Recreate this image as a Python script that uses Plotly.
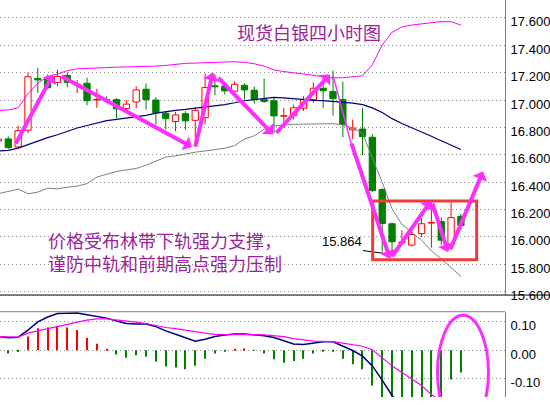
import plotly.graph_objects as go

# ---- data: 4-hour spot silver bars (index -1 is the partly hidden first bar) ----
bar_index = list(range(-1, 47))

open_ = [16.700, 16.716, 16.657, 16.780, 17.158, 17.154, 17.129, 17.180, 17.111, 17.122,
         17.000, 17.004, 17.003, 16.938, 16.986, 17.079, 17.000, 16.904, 16.843, 16.900,
         16.852, 16.871, 17.104, 17.101, 17.065, 17.108, 17.072, 17.003, 16.995, 16.882,
         16.886, 16.940, 17.003, 17.086, 17.063, 17.003, 16.782, 16.788, 16.728, 16.346,
         16.096, 15.958, 15.940, 16.024, 16.101, 16.112, 15.947, 16.150]
high = [16.720, 16.735, 16.812, 17.201, 17.235, 17.187, 17.222, 17.201, 17.146, 17.163,
        17.081, 17.027, 17.015, 17.000, 17.101, 17.122, 17.022, 16.918, 16.914, 16.919,
        16.948, 17.194, 17.187, 17.119, 17.137, 17.122, 17.099, 17.158, 17.020, 16.943,
        16.967, 17.029, 17.129, 17.165, 17.215, 17.134, 16.857, 16.943, 16.750, 16.356,
        16.105, 16.048, 16.044, 16.136, 16.250, 16.143, 16.250, 16.167]
low = [16.690, 16.644, 16.644, 16.757, 17.051, 17.079, 17.101, 17.094, 17.051, 16.962,
       16.943, 16.979, 16.866, 16.911, 16.940, 16.929, 16.821, 16.785, 16.771, 16.782,
       16.657, 16.823, 17.036, 17.040, 17.040, 17.003, 16.975, 16.979, 16.757, 16.836,
       16.859, 16.920, 16.979, 16.943, 16.886, 16.728, 16.714, 16.597, 16.327, 15.892,
       15.864, 15.940, 15.929, 15.999, 15.922, 15.940, 15.904, 16.048]
close = [16.714, 16.652, 16.776, 17.170, 17.147, 17.090, 17.172, 17.129, 17.115, 16.995,
         17.004, 16.998, 16.936, 16.970, 17.074, 17.003, 16.907, 16.864, 16.891, 16.848,
         16.925, 17.091, 17.097, 17.067, 17.115, 17.074, 17.005, 16.990, 16.884, 16.886,
         16.943, 17.003, 17.086, 17.068, 17.010, 16.823, 16.795, 16.733, 16.339, 16.098,
         15.964, 15.962, 16.017, 16.096, 16.105, 15.976, 16.141, 16.083]

# Bollinger bands (upper / middle / lower)
bb_upper = [16.924, 16.927, 16.943, 17.047, 17.122, 17.172, 17.190, 17.215, 17.228, 17.232,
            17.235, 17.237, 17.240, 17.242, 17.243, 17.245, 17.248, 17.253, 17.262, 17.268,
            17.270, 17.273, 17.277, 17.279, 17.280, 17.275, 17.265, 17.248, 17.220, 17.208,
            17.200, 17.191, 17.181, 17.169, 17.162, 17.163, 17.170, 17.177, 17.258, 17.402,
            17.495, 17.534, 17.548, 17.556, 17.563, 17.573, 17.572, 17.548]
bb_middle = [16.628, 16.632, 16.649, 16.675, 16.696, 16.725, 16.746, 16.771, 16.796, 16.814,
             16.832, 16.850, 16.859, 16.869, 16.877, 16.888, 16.904, 16.917, 16.925, 16.932,
             16.940, 16.947, 16.955, 16.967, 16.980, 16.995, 17.003, 17.012, 17.019, 17.016,
             17.009, 17.005, 16.998, 16.995, 16.991, 16.986, 16.978, 16.967, 16.943, 16.909,
             16.864, 16.829, 16.796, 16.765, 16.735, 16.703, 16.669, 16.639]
bb_lower = [16.316, 16.334, 16.349, 16.315, 16.327, 16.356, 16.351, 16.363, 16.371, 16.389,
            16.437, 16.458, 16.478, 16.490, 16.500, 16.524, 16.556, 16.583, 16.592, 16.606,
            16.619, 16.628, 16.637, 16.648, 16.667, 16.714, 16.739, 16.786, 16.811, 16.818,
            16.823, 16.824, 16.825, 16.826, 16.827, 16.818, 16.796, 16.757, 16.585, 16.399,
            16.205, 16.091, 16.033, 15.976, 15.897, 15.840, 15.776, 15.711]

# MACD panel
macd_main = [0.048, 0.044, 0.046, 0.071, 0.100, 0.117, 0.129, 0.131, 0.131, 0.125,
             0.120, 0.113, 0.103, 0.094, 0.092, 0.092, 0.083, 0.068, 0.056, 0.045,
             0.032, 0.039, 0.048, 0.054, 0.057, 0.057, 0.054, 0.051, 0.045, 0.034,
             0.022, 0.020, 0.025, 0.030, 0.030, 0.014, -0.001, -0.021, -0.055, -0.105,
             -0.159, -0.200, -0.230, -0.250, -0.260, -0.265, -0.255, -0.250]
macd_signal = [0.048, 0.046, 0.046, 0.060, 0.069, 0.076, 0.083, 0.092, 0.099, 0.106,
               0.110, 0.110, 0.107, 0.103, 0.099, 0.094, 0.087, 0.080, 0.076, 0.070,
               0.064, 0.060, 0.056, 0.056, 0.056, 0.057, 0.055, 0.054, 0.052, 0.048,
               0.041, 0.037, 0.032, 0.031, 0.030, 0.025, 0.020, 0.014, 0.002, -0.026,
               -0.055, -0.078, -0.101, -0.124, -0.156, -0.180, -0.200, -0.210]
macd_hist = [-0.005, -0.0115, -0.006, 0.048, 0.077, 0.080, 0.085, 0.080, 0.071, 0.043,
             0.023, 0.005, -0.015, -0.026, -0.018, -0.023, -0.040, -0.057, -0.061, -0.067,
             -0.055, -0.030, -0.0115, -0.005, 0.005, 0.006, -0.001, -0.0115, -0.032, -0.044,
             -0.038, -0.030, -0.0115, -0.003, -0.003, -0.030, -0.049, -0.067, -0.124, -0.180,
             -0.200, -0.215, -0.210, -0.200, -0.190, -0.175, -0.103, -0.078]

price_ticks = [15.6, 15.8, 16.0, 16.2, 16.4, 16.6, 16.8, 17.0, 17.2, 17.4, 17.6]
macd_ticks = [-0.10, 0.00, 0.10]

title_text = "现货白银四小时图"
note_lines = ["价格受布林带下轨强力支撑，", "谨防中轨和前期高点强力压制"]

# ---- styling ----
W, H, R_MARGIN = 550, 405, 45
PLOT_W = W - R_MARGIN
UP, DOWN = "#ff0000", "#008000"
MAG = "#ff2eff"
TEXT_PURPLE = "#9c1f9c"
GRID = "#8c8c8c"
MAIN_BOTTOM_PX, MACD_TOP_PX = 301, 318

fig = go.Figure()

# candle bodies
bull = [i for i in range(len(bar_index)) if close[i] >= open_[i]]
bear = [i for i in range(len(bar_index)) if close[i] < open_[i]]
for idx, fill, edge in ((bull, "white", UP), (bear, DOWN, DOWN)):
    fig.add_bar(
        x=[bar_index[i] for i in idx],
        base=[min(open_[i], close[i]) for i in idx],
        y=[max(abs(close[i] - open_[i]), 0.001) for i in idx],
        width=0.64,
        marker=dict(color=fill, line=dict(color=edge, width=1)),
        hoverinfo="skip", showlegend=False,
    )

# candle wicks (above and below the body)
for idx, col in ((bull, UP), (bear, DOWN)):
    wx, wy = [], []
    for i in idx:
        top, bot = max(open_[i], close[i]), min(open_[i], close[i])
        wx += [bar_index[i], bar_index[i], None, bar_index[i], bar_index[i], None]
        wy += [high[i], top, None, bot, low[i], None]
    fig.add_scatter(x=wx, y=wy, mode="lines", line=dict(color=col, width=1),
                    hoverinfo="skip", showlegend=False)

# Bollinger bands
fig.add_scatter(x=bar_index, y=bb_upper, mode="lines", line=dict(color="#ff00ff", width=1), showlegend=False)
fig.add_scatter(x=bar_index, y=bb_middle, mode="lines", line=dict(color="#000080", width=1.2), showlegend=False)
fig.add_scatter(x=bar_index, y=bb_lower, mode="lines", line=dict(color="#808080", width=1), showlegend=False)

# MACD histogram and lines
fig.add_bar(x=bar_index, y=macd_hist, yaxis="y2", width=0.11,
            marker=dict(color=[UP if v > 0 else DOWN for v in macd_hist], line=dict(width=0)),
            showlegend=False)
fig.add_scatter(x=bar_index, y=macd_main, yaxis="y2", mode="lines",
                line=dict(color="#000080", width=1.5), showlegend=False)
fig.add_scatter(x=bar_index, y=macd_signal, yaxis="y2", mode="lines",
                line=dict(color="#ff00ff", width=1.2), showlegend=False)

# ---- annotations ----
def arrow(x0, y0, x1, y1, width=4):
    return dict(x=x1, y=y1, ax=x0, ay=y0, xref="x", yref="y", axref="x", ayref="y",
                showarrow=True, arrowhead=1, arrowsize=0.65, arrowwidth=width,
                arrowcolor=MAG, text="", standoff=0, startstandoff=0)

annotations = [
    arrow(0.68, 16.671, 4.54, 17.187),
    arrow(5.25, 17.180, 18.67, 16.657),
    arrow(18.97, 16.649, 20.80, 17.201),
    arrow(21.21, 17.172, 26.90, 16.750),
    arrow(27.10, 16.750, 32.69, 17.187),
    arrow(34.83, 16.692, 38.79, 15.840),
    arrow(38.89, 15.847, 42.96, 16.263),
    arrow(43.06, 16.255, 44.68, 15.890),
    arrow(44.89, 15.904, 48.24, 16.478),
    dict(x=235 / PLOT_W, y=1 - 33 / H, xref="paper", yref="paper", xanchor="left",
         yanchor="middle", showarrow=False, text=title_text,
         font=dict(family="Noto Sans CJK SC", size=18, color=TEXT_PURPLE)),
    dict(x=46 / PLOT_W, y=1 - 256.5 / H, xref="paper", yref="paper", xanchor="left",
         yanchor="middle", showarrow=False, align="left", text="<br>".join(note_lines),
         font=dict(family="Noto Sans CJK SC", size=18, color=TEXT_PURPLE)),
    dict(x=36.2, y=15.964, xref="x", yref="y", xanchor="right", yanchor="middle",
         showarrow=False, text=f"{min(low):.3f}",
         font=dict(family="Liberation Sans", size=13, color="black")),
]

shapes = [
    # panel separators
    dict(type="line", xref="paper", yref="paper", x0=0, x1=W / PLOT_W,
         y0=1 - MAIN_BOTTOM_PX / H, y1=1 - MAIN_BOTTOM_PX / H, line=dict(color="black", width=1)),
    dict(type="line", xref="paper", yref="paper", x0=0, x1=1,
         y0=1 - MACD_TOP_PX / H, y1=1 - MACD_TOP_PX / H, line=dict(color="#808080", width=1)),
    # lowest-low marker line
    dict(type="line", xref="x", yref="y", x0=36.05, y0=15.900, x1=39.0, y1=15.872,
         line=dict(color="black", width=1)),
    # thin lead-in of the drop arrow
    dict(type="line", xref="x", yref="y", x0=33.0, y0=17.180, x1=34.93, y1=16.657,
         line=dict(color=MAG, width=1.5)),
    # consolidation box
    dict(type="rect", xref="x", yref="y", x0=37.03, x1=47.60, y0=15.833, y1=16.263,
         line=dict(color="#f23a3a", width=3)),
    # highlight on the MACD panel
    dict(type="circle", xref="x", yref="y2", x0=43.62, x1=48.80, y0=-0.278, y1=0.1228,
         line=dict(color=MAG, width=3)),
]

fig.update_layout(
    width=W, height=H,
    margin=dict(l=0, r=R_MARGIN, t=0, b=0),
    paper_bgcolor="white", plot_bgcolor="white",
    barmode="overlay", showlegend=False, hovermode=False,
    xaxis=dict(range=[-0.843, 50.48], showticklabels=False, showgrid=False,
               zeroline=False, showline=False, ticks=""),
    yaxis=dict(domain=[1 - MAIN_BOTTOM_PX / H, 1], range=[15.575, 17.731], side="right",
               tickvals=price_ticks, ticktext=[f"{v:.3f}" for v in price_ticks],
               showgrid=True, gridcolor=GRID, griddash="1px,3px", gridwidth=1,
               showline=True, linecolor="#808080", linewidth=1, ticks="", zeroline=False,
               tickfont=dict(family="Liberation Sans", size=13, color="black"),
               ticklabelshift=4, ticklabelstandoff=2),
    yaxis2=dict(domain=[0, 1 - MACD_TOP_PX / H], range=[-0.1645, 0.1355], side="right",
                anchor="x", tickvals=macd_ticks, ticktext=[f"{v:.2f}" for v in macd_ticks],
                showgrid=True, gridcolor=GRID, griddash="1px,3px", gridwidth=1,
                showline=True, linecolor="#808080", linewidth=1, ticks="", zeroline=False,
                tickfont=dict(family="Liberation Sans", size=13, color="black"),
                ticklabelshift=4, ticklabelstandoff=2),
    annotations=annotations,
    shapes=shapes,
)

fig.write_html("out.html")
